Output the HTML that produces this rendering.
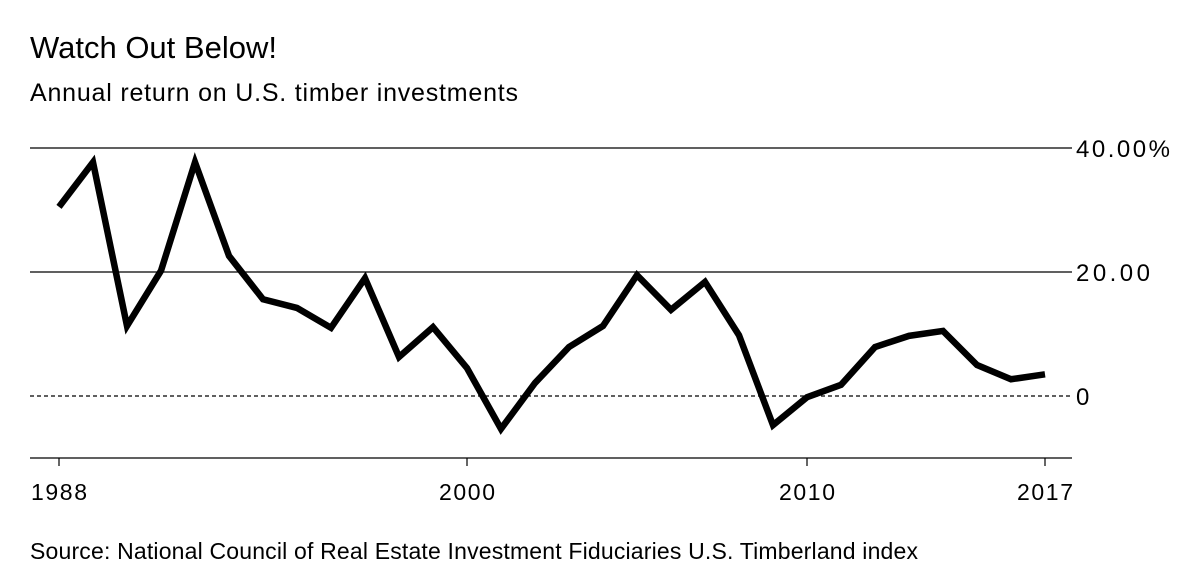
<!DOCTYPE html>
<html><head><meta charset="utf-8"><style>
body{margin:0;background:#fff;font-family:"Liberation Sans",sans-serif;}
svg{display:block}
</style></head><body>
<svg width="1200" height="587">
<text x="30" y="58" font-size="31" fill="#000">Watch Out Below!</text>
<text x="30" y="101" font-size="25" textLength="488" fill="#000">Annual return on U.S. timber investments</text>
<text x="30" y="559" font-size="23" textLength="888" fill="#000">Source: National Council of Real Estate Investment Fiduciaries U.S. Timberland index</text>
<g id="grid"></g><g id="xaxis"></g>
<path id="line" fill="none" stroke="#000" stroke-width="6.5" stroke-linejoin="miter"></path>
</svg>
<script>
const years=[1988,1989,1990,1991,1992,1993,1994,1995,1996,1997,1998,1999,2000,2001,2002,2003,2004,2005,2006,2007,2008,2009,2010,2011,2012,2013,2014,2015,2016,2017];
const returns=[30.5,37.7,11.3,20.2,37.7,22.6,15.6,14.2,11.0,19.0,6.3,11.1,4.5,-5.3,2.1,7.9,11.3,19.5,13.9,18.4,9.8,-4.7,-0.2,1.8,7.9,9.7,10.5,5.0,2.7,3.5];
const yTicks=[40,20,0];
const yTickLabels=["40.00%","20.00","0"];
const xTicks=[1988,2000,2010,2017];
const NS="http://www.w3.org/2000/svg";
const x=v=>59+(v-1988)*(1045-59)/29;
const y=v=>396-v*6.2;
function mk(tag,attrs,parent){const e=document.createElementNS(NS,tag);for(const k in attrs)e.setAttribute(k,attrs[k]);document.getElementById(parent).appendChild(e);return e;}
yTicks.forEach((t,i)=>{
 const l=mk('line',{x1:30,x2:1072,y1:y(t),y2:y(t),stroke:'#000','stroke-width':1.2,'stroke-dasharray':t===0?'4,3':'none'},'grid');
 
 
 const lab=yTickLabels[i];
 const tx=mk('text',{x:1076,y:y(t)+9,'font-size':24},'grid');tx.textContent=lab;
 if(lab.length>1)tx.setAttribute('textLength',lab==="40.00%"?94:74);
 
 
});
const ax=mk('line',{x1:30,x2:1072,y1:y(-10),y2:y(-10),stroke:'#000','stroke-width':1.2},'xaxis');


xTicks.forEach(t=>{
 const tk=mk('line',{x1:x(t),x2:x(t),y1:y(-10),y2:y(-10)+8,stroke:'#000','stroke-width':1.2},'xaxis');
 
 
 const tx=mk('text',{x:x(t)-28,y:500,'font-size':23,textLength:56},'xaxis');tx.textContent=t;
 
 
});
document.getElementById('line').setAttribute('d',years.map((yr,i)=>(i?'L':'M')+x(yr)+','+y(returns[i])).join(' '));
</script>
</body></html>
